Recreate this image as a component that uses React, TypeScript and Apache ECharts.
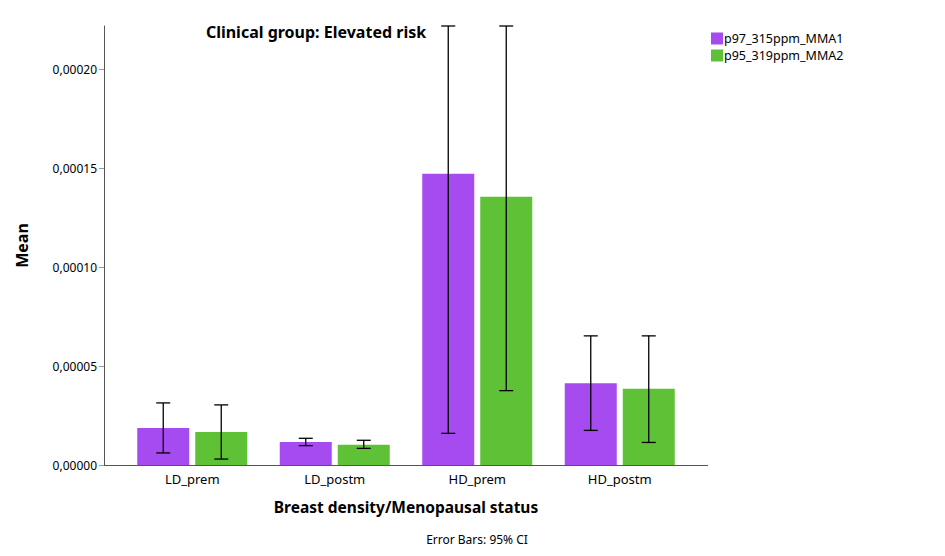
import React, { useEffect, useRef } from "react";
import * as echarts from "echarts";

const categories = ["LD_prem", "LD_postm", "HD_prem", "HD_postm"];
const seriesNames = ["p97_315ppm_MMA1", "p95_319ppm_MMA2"];
const means1 = [0.0000187, 0.0000116, 0.0001473, 0.0000413];
const means2 = [0.0000167, 0.0000103, 0.0001357, 0.0000385];
const lower1 = [0.0000061, 0.0000098, 0.000016, 0.0000175];
const upper1 = [0.0000314, 0.0000135, 0.000222, 0.0000653];
const lower2 = [0.000003, 0.0000084, 0.0000376, 0.0000114];
const upper2 = [0.0000304, 0.0000125, 0.000222, 0.0000653];
const colors = ["#A64BF0", "#5FC236"];

const FONT = "Noto Sans";
const BAR_W = 52;
const BAR_GAP = 6;

function errSeries(idx: number, lo: number[], hi: number[]) {
  const sign = idx === 0 ? -1 : 1;
  return {
    type: "custom",
    name: "err" + idx,
    silent: true,
    z: 10,
    data: categories.map((_, i) => [i, lo[i], hi[i]]),
    renderItem: (params: any, api: any) => {
      const i = api.value(0);
      const pLo = api.coord([i, api.value(1)]);
      const pHi = api.coord([i, api.value(2)]);
      const x = pLo[0] + sign * (BAR_W + BAR_GAP) / 2;
      const cap = 7;
      const style = { stroke: "#000", lineWidth: 1.3 };
      return {
        type: "group",
        children: [
          { type: "line", shape: { x1: x, y1: pLo[1], x2: x, y2: pHi[1] }, style },
          { type: "line", shape: { x1: x - cap, y1: pLo[1], x2: x + cap, y2: pLo[1] }, style },
          { type: "line", shape: { x1: x - cap, y1: pHi[1], x2: x + cap, y2: pHi[1] }, style },
        ],
      };
    },
  };
}

export default function App() {
  const ref = useRef<HTMLDivElement>(null);
  useEffect(() => {
    const chart = echarts.init(ref.current!, null, { renderer: "svg" });
    chart.setOption({
      animation: false,
      textStyle: { fontFamily: FONT },
      title: [
        {
          text: "Clinical group: Elevated risk",
          left: 311,
          top: 19,
          textAlign: "center",
          textStyle: { fontFamily: FONT, fontSize: 16, fontWeight: "bold", color: "#000" },
        },
        {
          text: "Error Bars: 95% CI",
          left: 472,
          top: 528,
          textAlign: "center",
          textStyle: { fontFamily: FONT, fontSize: 12, fontWeight: "normal", color: "#000" },
        },
      ],
      legend: {
        orient: "vertical",
        left: 706,
        top: 27,
        itemWidth: 12,
        itemHeight: 12,
        itemGap: 4,
        icon: "rect",
        data: seriesNames,
        textStyle: { fontFamily: FONT, fontSize: 12.5, lineHeight: 12, color: "#000", padding: [0, 0, 0, -4] },
      },
      grid: { left: 121, right: 254, top: 26, bottom: 91 },
      xAxis: {
        type: "category",
        data: categories,
        name: "Breast density/Menopausal status",
        nameLocation: "middle",
        nameGap: 34,
        nameTextStyle: { fontFamily: FONT, fontSize: 15.5, fontWeight: "bold", color: "#000" },
        axisLine: { show: false },
        axisTick: { show: false },
        axisLabel: { fontFamily: FONT, fontSize: 13, color: "#000", margin: 7 },
      },
      yAxis: {
        type: "value",
        min: 0,
        max: 0.000222,
        interval: 0.00005,
        offset: 17,
        name: "Mean",
        nameLocation: "middle",
        nameGap: 74,
        nameTextStyle: { fontFamily: FONT, fontSize: 16, fontWeight: "bold", color: "#000" },
        axisLine: { show: true, lineStyle: { color: "#555", width: 1 } },
        axisTick: { show: true, length: 5, lineStyle: { color: "#999" } },
        splitLine: { show: false },
        axisLabel: {
          fontFamily: FONT,
          fontSize: 12,
          color: "#000",
          margin: 7,
          showMaxLabel: false,
          formatter: (v: number) => (v > 0.00021 ? "" : v.toFixed(5).replace(".", ",")),
        },
      },
      graphic: [
        {
          type: "line",
          shape: { x1: 104, y1: 465.5, x2: 708, y2: 465.5 },
          style: { stroke: "#555", lineWidth: 1 },
          z: 5,
        },
      ],
      series: [
        {
          type: "bar",
          name: seriesNames[0],
          data: means1,
          barWidth: BAR_W,
          barGap: (BAR_GAP / BAR_W) * 100 + "%",
          itemStyle: { color: colors[0] },
        },
        {
          type: "bar",
          name: seriesNames[1],
          data: means2,
          barWidth: BAR_W,
          barGap: (BAR_GAP / BAR_W) * 100 + "%",
          itemStyle: { color: colors[1] },
        },
        errSeries(0, lower1, upper1),
        errSeries(1, lower2, upper2),
      ],
    });
    return () => chart.dispose();
  }, []);
  return <div ref={ref} style={{ width: 945, height: 556, margin: -8 }} />;
}
